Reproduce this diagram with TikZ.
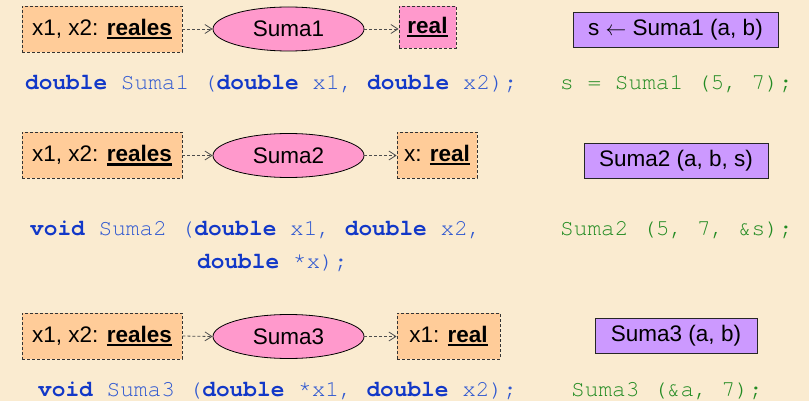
\documentclass[tikz,border=0pt]{standalone}
\usepackage{fontspec}
\setmainfont{Liberation Sans}
\setsansfont{Liberation Sans}
\setmonofont{texgyrecursor}[Extension=.otf, UprightFont=*-regular, BoldFont=*-bold]
\usepackage{xcolor}
\definecolor{suma-paper}{HTML}{FAEBD0}
\definecolor{suma-orange}{HTML}{FFCC99}
\definecolor{suma-pink}{HTML}{FF99CC}
\definecolor{suma-purple}{HTML}{CC99FF}
\definecolor{suma-kw}{HTML}{1238C8}
\definecolor{suma-id}{HTML}{2F58D0}
\definecolor{suma-green}{HTML}{228B22}
\usepackage{tikz}
\usetikzlibrary{arrows.meta,shapes.geometric}

% keyword and underlined type name
\newcommand{\kw}[1]{{\bfseries\color{suma-kw}#1}}
\newcommand{\tipo}[1]{\setbox0\hbox{\bfseries #1}\rlap{\rule[-4pt]{\wd0}{2.2pt}}\box0}

\begin{document}
\begin{tikzpicture}[
  x=1pt, y=-1pt,
  font=\sffamily\fontsize{22.5}{26}\selectfont,
  every node/.style={align=center},
  dato/.style={rectangle, draw=black!80, dash pattern=on 3pt off 2pt, line width=0.8pt, fill=suma-orange, minimum height=46pt, inner sep=0pt},
  func/.style={ellipse, draw=black, line width=0.8pt, fill=suma-pink, minimum width=151pt, minimum height=44pt, inner sep=0pt},
  llamada/.style={rectangle, draw=black!85, line width=0.8pt, fill=suma-purple, minimum height=35pt, inner sep=0pt},
  codigo/.style={anchor=base west, inner sep=0pt, font=\ttfamily\fontsize{22.8}{26}\selectfont, text=suma-id},
  uso/.style={codigo, text=suma-green},
  flecha/.style={-{Straight Barb[length=7pt, width=9pt]}, dash pattern=on 3pt off 2pt, line width=0.8pt, black!70}
]
  \useasboundingbox (0,0) rectangle (809,401);
  \fill[suma-paper] (0,0) rectangle (809,401);

  % Suma1
  \node[dato, minimum width=160pt] (in1) at (102,29) {x1, x2: \tipo{reales}};
  \node[func] (f1) at (288.5,29) {Suma1};
  \node[dato, fill=suma-pink, minimum width=57pt, minimum height=42pt] (out1) at (427.5,27) {\tipo{real}};
  \node[llamada, minimum width=205pt] (call1) at (675.5,29.5) {s $\leftarrow$ Suma1 (a, b)};
  \node[codigo] (code1) at (25,90) {\kw{double} Suma1 (\kw{double} x1, \kw{double} x2);};
  \node[uso] (use1) at (560,90) {s = Suma1 (5, 7);};

  % Suma2
  \node[dato, minimum width=160pt] (in2) at (102,155.5) {x1, x2: \tipo{reales}};
  \node[func] (f2) at (288.5,155.5) {Suma2};
  \node[dato, minimum width=80pt] (out2) at (437,155) {x: \tipo{real}};
  \node[llamada, minimum width=184pt] (call2) at (676,160.5) {Suma2 (a, b, s)};
  \node[codigo] (code2) at (30,236) {\kw{void} Suma2 (\kw{double} x1, \kw{double} x2,};
  \node[codigo] (code2b) at (197,268) {\kw{double} *x);};
  \node[uso] (use2) at (560,236) {Suma2 (5, 7, \&s);};

  % Suma3
  \node[dato, minimum width=160pt] (in3) at (102,336) {x1, x2: \tipo{reales}};
  \node[func] (f3) at (288.5,336.5) {Suma3};
  \node[dato, minimum width=103pt] (out3) at (448.5,336) {x1: \tipo{real}};
  \node[llamada, minimum width=162pt] (call3) at (676,335.5) {Suma3 (a, b)};
  \node[codigo] (code3) at (38,396) {\kw{void} Suma3 (\kw{double} *x1, \kw{double} x2);};
  \node[uso] (use3) at (571,396) {Suma3 (\&a, 7);};

  \foreach \i in {1,2,3} {
    \draw[flecha] (in\i.east) -- (f\i.west);
    \draw[flecha] (f\i.east) -- (out\i.west |- f\i.east);
  }
\end{tikzpicture}
\end{document}
